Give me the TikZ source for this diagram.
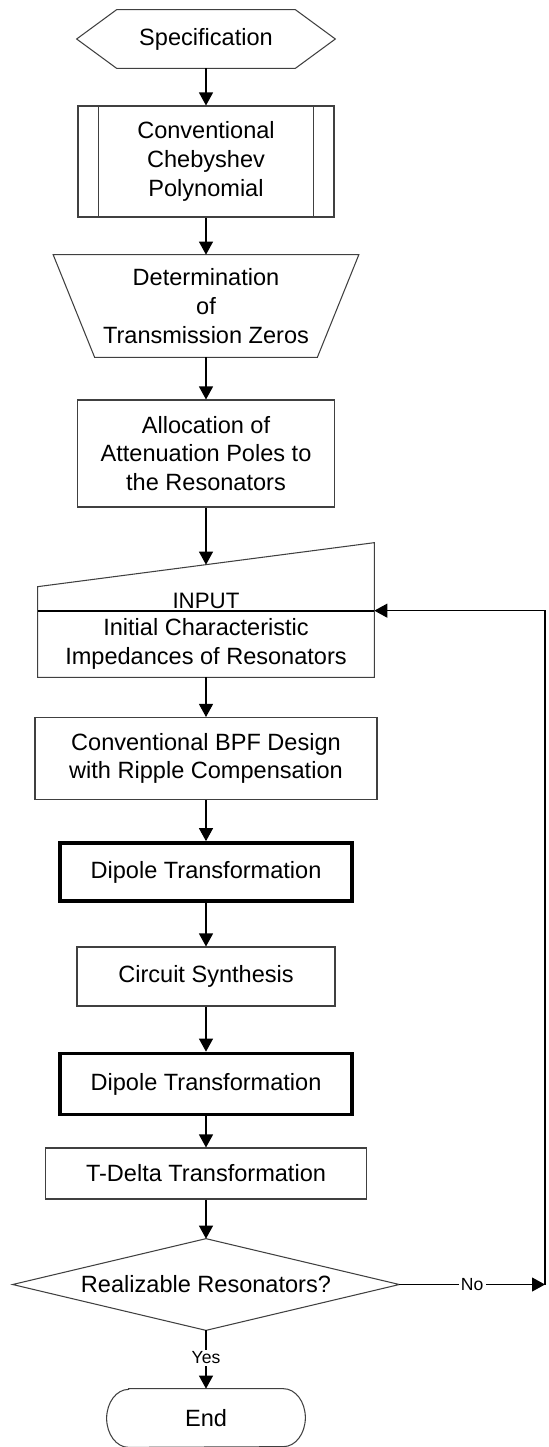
\documentclass[tikz,border=0pt]{standalone}
\usepackage{fontspec}
\setmainfont{Liberation Sans}
\usetikzlibrary{arrows.meta,positioning,calc}

\begin{document}
\begin{tikzpicture}[
    txt/.style={align=center, inner sep=0pt, font={\fontsize{13.4}{16.3}\selectfont}},
    outline/.style={draw=black!75, line width=0.6pt},
    box/.style={txt, outline},
    dipole/.style={txt, draw=black, line width=2.1pt},
    flow/.style={-{Triangle[length=0.26cm,width=0.28cm]}, line width=0.6pt},
    tag/.style={fill=white, inner sep=1.2pt, font={\fontsize{10}{12}\selectfont}}
  ]
  \useasboundingbox (0,0) rectangle (10.98,-28.94);

  % Specification (hexagon)
  \node[txt, minimum width=3.56cm, minimum height=1.16cm] (spec) at (4.12,-0.78) {Specification};
  \draw[outline] (spec.north west) -- (spec.north east) -- ($(spec.east)+(0.8,0)$)
    -- (spec.south east) -- (spec.south west) -- ($(spec.west)+(-0.8,0)$) -- cycle;

  % Chebyshev polynomial (predefined process)
  \node[box, minimum width=5.12cm, minimum height=2.22cm] (cheb) at (4.12,-3.23) {Conventional\\Chebyshev\\Polynomial};
  \draw[outline] ($(cheb.north west)+(0.42,0)$) -- ($(cheb.south west)+(0.42,0)$);
  \draw[outline] ($(cheb.north east)+(-0.42,0)$) -- ($(cheb.south east)+(-0.42,0)$);

  % Transmission zeros (manual operation)
  \node[txt, minimum width=4.44cm, minimum height=2.04cm] (zeros) at (4.12,-6.12) {Determination\\of\\Transmission Zeros};
  \draw[outline] (zeros.south west) -- (zeros.south east) -- ($(zeros.north east)+(0.83,0)$)
    -- ($(zeros.north west)+(-0.83,0)$) -- cycle;

  % Attenuation poles
  \node[box, minimum width=5.14cm, minimum height=2.14cm] (alloc) at (4.12,-9.07) {Allocation of\\Attenuation Poles to\\the Resonators};

  % Manual input
  \node[txt, minimum width=6.72cm, minimum height=1.32cm] (inp) at (4.12,-12.88) {Initial Characteristic\\Impedances of Resonators};
  \draw[outline] (inp.south west) -- (inp.south east) -- ($(inp.north east)+(0,1.36)$) coordinate (inptr)
    -- ($(inp.north west)+(0,0.48)$) coordinate (inptl) -- cycle;
  \draw[line width=1.2pt] (inp.north west) -- (inp.north east);
  \node[above, inner sep=1pt, font={\fontsize{12.7}{15}\selectfont}] (inlabel) at (inp.north) {INPUT};
  \coordinate (inptop) at ($(inptl)!0.5!(inptr)$);

  % Design steps
  \node[box, minimum width=6.84cm, minimum height=1.64cm] (bpf) at (4.12,-15.17) {Conventional BPF Design\\with Ripple Compensation};
  \node[dipole, minimum width=5.84cm, minimum height=1.16cm] (dip1) at (4.12,-17.44) {Dipole Transformation};
  \node[box, minimum width=5.16cm, minimum height=1.18cm] (synth) at (4.12,-19.53) {Circuit Synthesis};
  \node[dipole, minimum width=5.84cm, minimum height=1.22cm] (dip2) at (4.12,-21.68) {Dipole Transformation};
  \node[box, minimum width=6.42cm, minimum height=1.02cm] (tdelta) at (4.12,-23.47) {T-Delta Transformation};

  % Decision
  \node[txt, minimum width=7.72cm, minimum height=1.82cm] (dec) at (4.12,-25.69) {Realizable Resonators?};
  \draw[outline] (dec.north) -- (dec.east) -- (dec.south) -- (dec.west) -- cycle;

  % End (terminal)
  \node[txt, minimum width=3.96cm, minimum height=1.16cm] (fin) at (4.12,-28.36) {End};
  \draw[outline] ($(fin.north west)+(0.44,0)$) -- ($(fin.north east)+(-0.44,0)$)
    arc[start angle=90, end angle=-90, x radius=0.44cm, y radius=0.58cm]
    -- ($(fin.south west)+(0.44,0)$)
    arc[start angle=270, end angle=90, x radius=0.44cm, y radius=0.58cm] -- cycle;

  % Connectors
  \draw[flow] (spec.south) -- (cheb.north);
  \draw[flow] (cheb.south) -- (zeros.north);
  \draw[flow] (zeros.south) -- (alloc.north);
  \draw[flow] (alloc.south) -- (inptop);
  \draw[flow] (inp.south) -- (bpf.north);
  \draw[flow] (bpf.south) -- (dip1.north);
  \draw[flow] (dip1.south) -- (synth.north);
  \draw[flow] (synth.south) -- (dip2.north);
  \draw[flow] (dip2.south) -- (tdelta.north);
  \draw[flow] (tdelta.south) -- (dec.north);
  \draw[flow] (dec.south) -- node[tag, pos=0.47] {Yes} (fin.north);

  % Feedback loop
  \coordinate (back) at (10.90,-25.69);
  \draw[flow] (dec.east) -- node[tag] {No} (back);
  \draw[flow] (back) |- (inp.north east);
\end{tikzpicture}
\end{document}
